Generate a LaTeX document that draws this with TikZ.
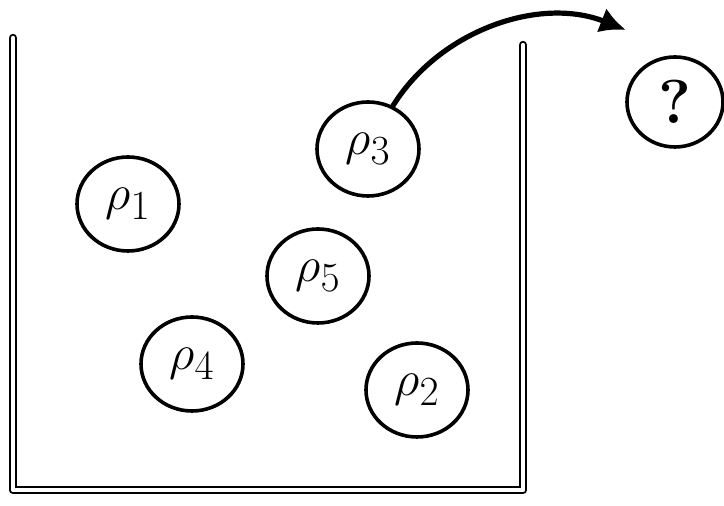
\documentclass[tikz,border=0pt]{standalone}
\usetikzlibrary{arrows.meta,shapes.geometric}
\begin{document}
\begin{tikzpicture}[x=0.5pt,y=-0.5pt,line cap=round,line join=round,
  ball/.style={draw,ellipse,line width=1.8pt,minimum width=51pt,minimum height=47pt,inner sep=0pt,font=\fontsize{31}{33}\selectfont},
  wall/.style={draw,double,line width=1pt,double distance=2.2pt}]
	\useasboundingbox (0,0) rectangle (724,506);
	% Box
	\draw[wall] (13,38) -- (13,490) -- (523,490) -- (523,45);
	% Particles
	\node[ball] (r1) at (128,204) {$\rho_1$};
	\node[ball] (r3) at (368,149) {$\rho_3$};
	\node[ball] (r5) at (318,276) {$\rho_5$};
	\node[ball] (r4) at (192,364) {$\rho_4$};
	\node[ball] (r2) at (417,390) {$\rho_2$};
	\node[ball,minimum width=48pt,minimum height=45pt] (q) at (675,102) {\bfseries ?};
	% Escaping particle
	\coordinate (tip) at (626,30);
	\draw[line width=2.6pt,-{Latex[length=13pt,width=13pt]}] (r3.60) .. controls (440,30) and (540,-4) .. (tip);
\end{tikzpicture}
\end{document}
